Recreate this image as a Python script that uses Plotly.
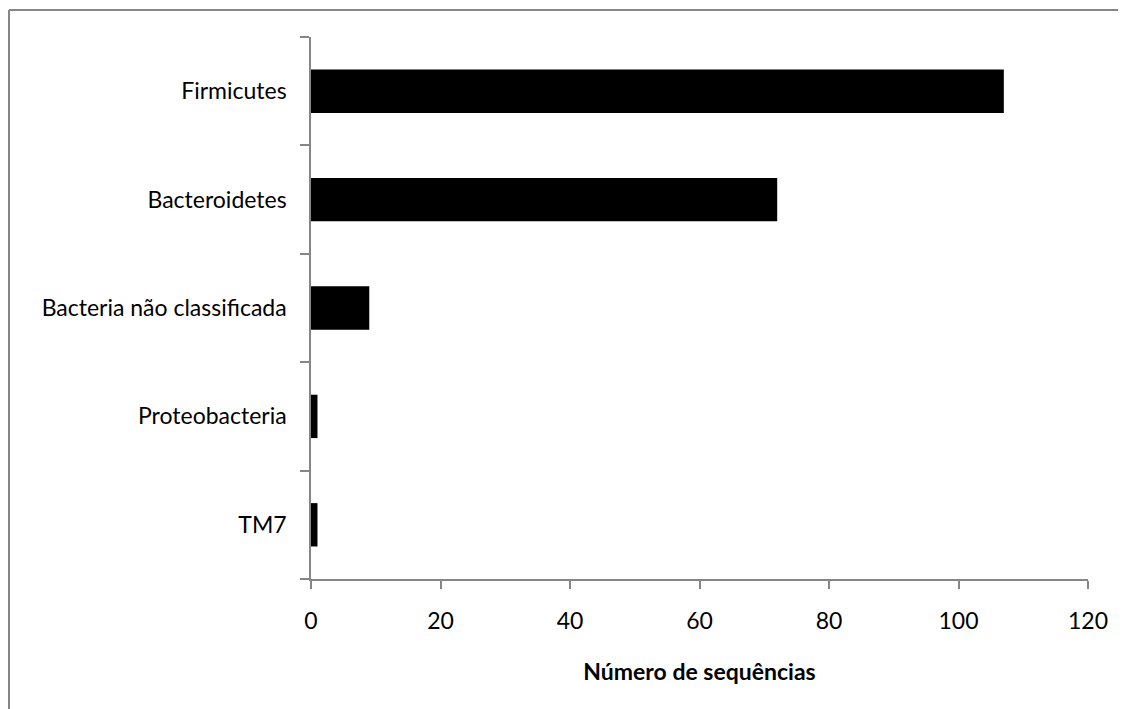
import plotly.graph_objects as go

categories = ["Firmicutes", "Bacteroidetes", "Bacteria não classificada", "Proteobacteria", "TM7"]
values = [107, 72, 9, 1, 1]
x_ticks = [0, 20, 40, 60, 80, 100, 120]
x_title = "Número de sequências"

# page has an 8px body margin, so the figure is sized to fit the window
W, H = 1118, 701
L, T = 303, 29
pw, ph = 777, 542
R, B = W - L - pw, H - T - ph

def px_x(p):
    return (p - L) / pw

def px_y(p):
    return (H - B - p) / ph

FONT = "Lato, 'Open Sans', sans-serif"
GREY = "#868686"

fig = go.Figure(go.Bar(
    y=categories, x=values, orientation="h",
    marker=dict(color="black", line=dict(width=0)),
))

fig.update_layout(
    width=W, height=H,
    margin=dict(l=L, r=R, t=T, b=B),
    paper_bgcolor="white", plot_bgcolor="white",
    bargap=0.6,
    showlegend=False,
    font=dict(family=FONT, size=23, color="black"),
    xaxis=dict(
        range=[0, 120], tickvals=x_ticks, showgrid=False, zeroline=False,
        showline=True, linecolor=GREY, linewidth=1.5,
        ticks="outside", ticklen=8, tickcolor=GREY, tickwidth=1.5,
        ticklabelstandoff=13,
        title=dict(text="<b>" + x_title + "</b>", font=dict(size=23), standoff=31),
    ),
    yaxis=dict(
        categoryorder="array", categoryarray=categories[::-1],
        showgrid=False, zeroline=False,
        showline=True, linecolor=GREY, linewidth=1.5,
        ticks="outside", ticklen=9, tickcolor=GREY, tickwidth=1.5,
        tickson="boundaries", ticklabelstandoff=18,
    ),
    shapes=[
        dict(type="line", xref="paper", yref="paper",
             x0=px_x(1), x1=px_x(W), y0=px_y(2), y1=px_y(2),
             line=dict(color=GREY, width=2)),
        dict(type="line", xref="paper", yref="paper",
             x0=px_x(1), x1=px_x(1), y0=px_y(2), y1=px_y(H),
             line=dict(color=GREY, width=2)),
    ],
)

fig.write_html(
    "out.html",
    config={"displayModeBar": False},
    post_script="document.documentElement.style.overflow='hidden';"
                "document.body.style.overflow='hidden';",
)
